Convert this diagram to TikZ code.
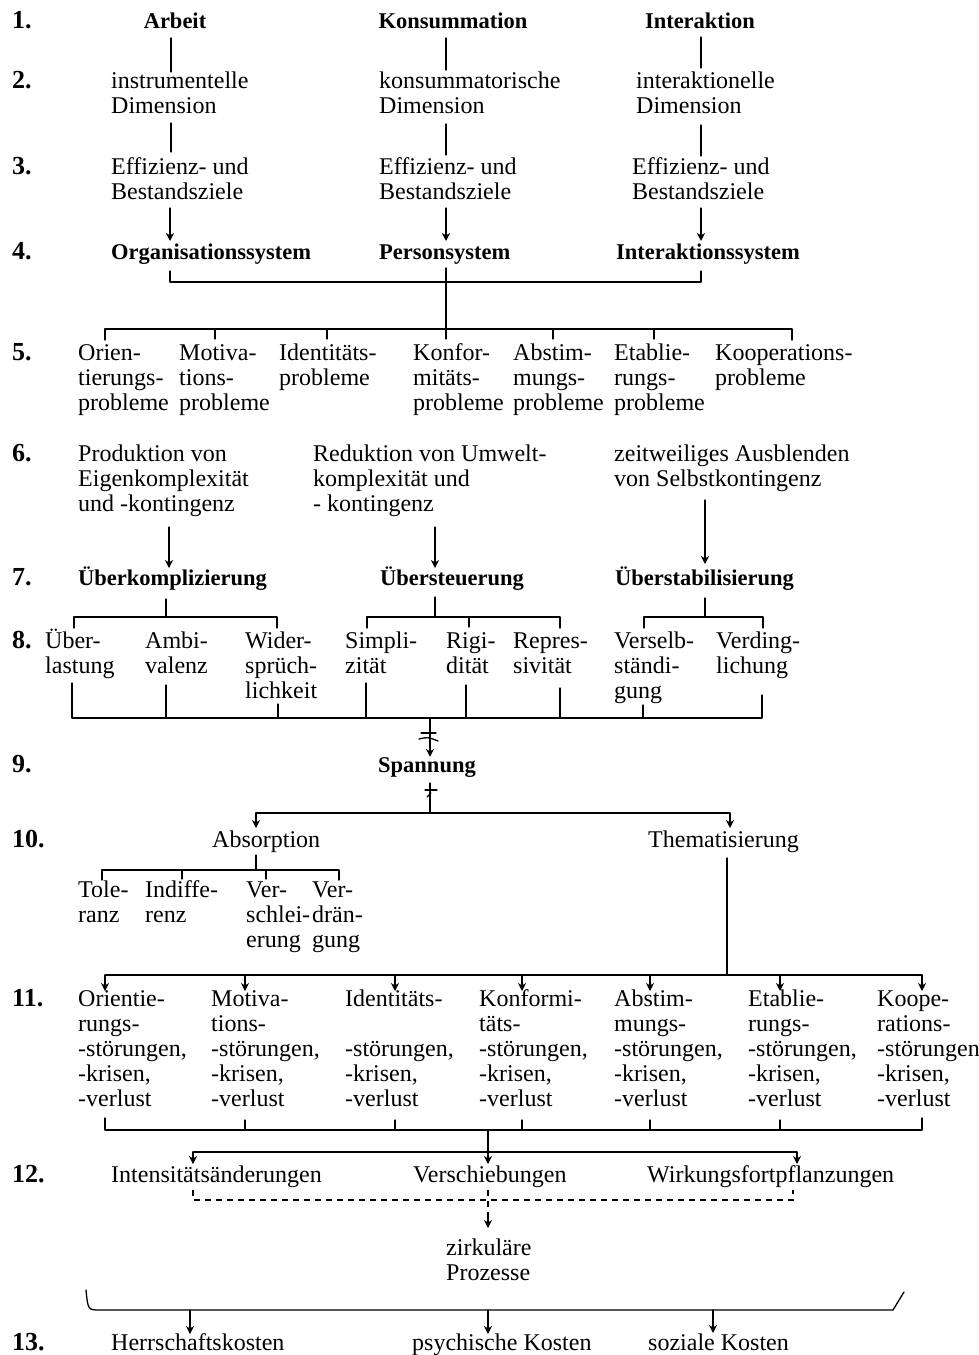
\documentclass[tikz,border=0pt]{standalone}
\usepackage{fontspec}
\setmainfont{Liberation Serif}
\usetikzlibrary{arrows.meta}
\begin{document}
\begin{tikzpicture}[x=1pt,y=-1pt,
 txt/.style={font=\fontsize{24}{25}\selectfont, inner sep=0pt, anchor=base west, align=left},
 bld/.style={txt, font=\fontsize{22.5}{25}\selectfont\bfseries},
 labl/.style={txt, font=\fontsize{26}{25}\selectfont\bfseries},
 bldc/.style={bld, anchor=base},
 ln/.style={line width=1.3pt, line cap=round, line join=round},
 arr/.style={ln, -{Stealth[length=8pt,width=8pt,inset=2.5pt]}},
 dsh/.style={line width=1.3pt, dash pattern=on 6pt off 5pt}]
\useasboundingbox (0,0) rectangle (978,1355);
% row labels
\foreach \t/\y [count=\i] in {1./28,2./88,3./174,4./259,5./360,6./461,7./585,8./648,9./772,10./847,11./1006,12./1182,13./1350}
  \node[labl] (lab\i) at (12,\y) {\t};
% (multi-line nodes are placed at the baseline of their LAST line)
% row 1
\node[bldc] (arbeit) at (175,28) {Arbeit};
\node[bldc] (konsum) at (453,28) {Konsummation};
\node[bldc] (interak) at (700,28) {Interaktion};
% row 2
\node[txt] (instr) at (111,113) {instrumentelle\\Dimension};
\node[txt] (konsd) at (379,113) {konsummatorische\\Dimension};
\node[txt] (interd) at (636,113) {interaktionelle\\Dimension};
% row 3
\node[txt] (eff1) at (111,199) {Effizienz- und\\Bestandsziele};
\node[txt] (eff2) at (379,199) {Effizienz- und\\Bestandsziele};
\node[txt] (eff3) at (632,199) {Effizienz- und\\Bestandsziele};
% row 4
\node[bld] (orgs) at (111,259) {Organisationssystem};
\node[bld] (pers) at (379,259) {Personsystem};
\node[bld] (inters) at (616,259) {Interaktionssystem};
% connectors 1-4
\draw[ln] (171,38) -- (171,72);
\draw[ln] (446,38) -- (446,70);
\draw[ln] (701,37) -- (701,68);
\draw[ln] (171,123) -- (171,152);
\draw[ln] (446,124) -- (446,155);
\draw[ln] (701,125) -- (701,156);
\draw[arr] (170,208) -- (170,241);
\draw[arr] (446,208) -- (446,241);
\draw[arr] (701,208) -- (701,241);
\coordinate (j4) at (446,282);
\draw[ln] (170,271) |- (j4) -| (701,271);
\draw[ln] (446,268) -- (446,339);
\draw[ln] (105,340) -- (105,329) -- (792,329) -- (792,340);
\foreach \x in {215,327,553,654} \draw[ln] (\x,329) -- (\x,339);
% row 5
\node[txt] (p1) at (78,410) {Orien-\\tierungs-\\probleme};
\node[txt] (p2) at (179,410) {Motiva-\\tions-\\probleme};
\node[txt] (p3) at (279,385) {Identitäts-\\probleme};
\node[txt] (p4) at (413,410) {Konfor-\\mitäts-\\probleme};
\node[txt] (p5) at (513,410) {Abstim-\\mungs-\\probleme};
\node[txt] (p6) at (614,410) {Etablie-\\rungs-\\probleme};
\node[txt] (p7) at (715,385) {Kooperations-\\probleme};
% row 6
\node[txt] (q1) at (78,511) {Produktion von\\Eigenkomplexität\\und -kontingenz};
\node[txt] (q2) at (313,511) {Reduktion von Umwelt-\\komplexität und\\- kontingenz};
\node[txt] (q3) at (614,486) {zeitweiliges Ausblenden\\von Selbstkontingenz};
\draw[arr] (169,527) -- (169,568);
\draw[arr] (435,527) -- (435,568);
\draw[arr] (705,500) -- (705,564);
% row 7
\node[bld] (u1) at (78,585) {Überkomplizierung};
\node[bld] (u2) at (380,585) {Übersteuerung};
\node[bld] (u3) at (615,585) {Überstabilisierung};
\draw[ln] (166,599) -- (166,617);
\draw[ln] (74,628) -- (74,617) -- (277,617) -- (277,628);
\draw[ln] (435,597) -- (435,617);
\draw[ln] (367,628) -- (367,617) -- (560,617) -- (560,628);
\draw[ln] (469,617) -- (469,627);
\draw[ln] (705,598) -- (705,617);
\draw[ln] (644,628) -- (644,617) -- (763,617) -- (763,628);
% row 8
\node[txt] (v1) at (45,673) {Über-\\lastung};
\node[txt] (v2) at (145,673) {Ambi-\\valenz};
\node[txt] (v3) at (245,698) {Wider-\\sprüch-\\lichkeit};
\node[txt] (v4) at (345,673) {Simpli-\\zität};
\node[txt] (v5) at (446,673) {Rigi-\\dität};
\node[txt] (v6) at (513,673) {Repres-\\sivität};
\node[txt] (v7) at (614,698) {Verselb-\\ständi-\\gung};
\node[txt] (v8) at (716,673) {Verding-\\lichung};
\coordinate (j8) at (430,718);
\draw[ln] (72,683) -- (72,718) -- (762,718) -- (762,695);
\foreach \x/\y in {166/685,278/704,366/683,466/685,560/688,643/705} \draw[ln] (\x,\y) -- (\x,718);
% row 9
\node[bldc] (spann) at (427,772) {Spannung};
\draw[arr] (j8) -- (spann.north -| j8);
\draw[ln] (421,733) -- (436,733);
\draw[ln] (419,739) .. controls (428,737) .. (438,741);
\coordinate (j9) at (430,813);
\draw[ln] (j9) -- (430,783);
\draw[ln] (425,790) -- (437,790);
\draw[ln] (427,797) -- (431,793);
\draw[arr] (j9) -| (256,828);
\draw[arr] (j9) -| (730,828);
% row 10
\node[txt] (absorp) at (212,847) {Absorption};
\node[txt] (themat) at (648,847) {Thematisierung};
\draw[ln] (256,855) -- (256,870);
\draw[ln] (102,880) -- (102,870) -- (339,870) -- (339,880);
\foreach \x in {182,266} \draw[ln] (\x,870) -- (\x,879);
\node[txt] (w1) at (78,922) {Tole-\\ranz};
\node[txt] (w2) at (145,922) {Indiffe-\\renz};
\node[txt] (w3) at (246,947) {Ver-\\schlei-\\erung};
\node[txt] (w4) at (312,947) {Ver-\\drän-\\gung};
\coordinate (j10) at (727,975);
\draw[ln] (727,858) -- (j10);
\draw[ln] (105,975) -- (922,975);
\foreach \x in {105,245,395,522,650,780,922} \draw[arr] (\x,975) -- (\x,991);
% row 11
\node[txt] (s1) at (78,1106) {Orientie-\\rungs-\\-störungen,\\-krisen,\\-verlust};
\node[txt] (s2) at (211,1106) {Motiva-\\tions-\\-störungen,\\-krisen,\\-verlust};
\node[txt] (s3) at (345,1106) {Identitäts-\\\mbox{}\\-störungen,\\-krisen,\\-verlust};
\node[txt] (s4) at (479,1106) {Konformi-\\täts-\\-störungen,\\-krisen,\\-verlust};
\node[txt] (s5) at (614,1106) {Abstim-\\mungs-\\-störungen,\\-krisen,\\-verlust};
\node[txt] (s6) at (748,1106) {Etablie-\\rungs-\\-störungen,\\-krisen,\\-verlust};
\node[txt] (s7) at (877,1106) {Koope-\\rations-\\-störungen\\-krisen,\\-verlust};
\coordinate (j11) at (488,1130);
\draw[ln] (105,1118) -- (105,1130) -- (922,1130) -- (922,1118);
\foreach \x in {245,395,522,650,780} \draw[ln] (\x,1130) -- (\x,1120);
% row 12
\node[txt] (x1) at (111,1182) {Intensitätsänderungen};
\node[txt] (x2) at (413,1182) {Verschiebungen};
\node[txt] (x3) at (647,1182) {Wirkungsfortpflanzungen};
\draw[arr] (j11) -- (488,1164);
\draw[ln] (193,1152) -- (797,1152);
\draw[arr] (193,1152) -- (193,1164);
\draw[arr] (797,1152) -- (797,1164);
\draw[dsh] (193,1190) -- (193,1200) -- (793,1200) -- (793,1190);
\draw[dsh] (488,1190) -- (488,1218);
\draw[arr] (488,1218) -- (488,1228);
\node[txt] (zirk) at (446,1280) {zirkuläre\\Prozesse};
% row 13
\draw[ln] (86,1290) .. controls (88,1310) .. (100,1310) -- (893,1310) -- (904,1292);
\draw[arr] (190,1310) -- (190,1334);
\draw[arr] (488,1310) -- (488,1334);
\draw[arr] (713,1310) -- (713,1333);
\node[txt] (y1) at (111,1350) {Herrschaftskosten};
\node[txt] (y2) at (412,1350) {psychische Kosten};
\node[txt] (y3) at (648,1350) {soziale Kosten};
\end{tikzpicture}
\end{document}
